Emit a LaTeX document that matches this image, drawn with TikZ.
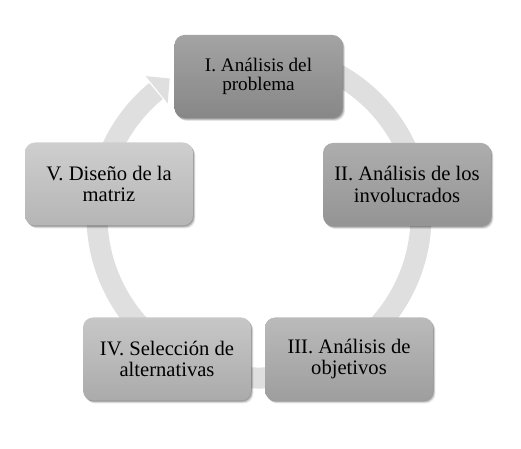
\documentclass[tikz,border=0pt]{standalone}
\usepackage{fontspec}
\setmainfont{Liberation Serif}
\usetikzlibrary{shadows,calc}
\definecolor{ringgray}{HTML}{DFDFDF}
\begin{document}
\begin{tikzpicture}[x=0.75pt,y=0.75pt,
  box/.style={rounded corners=7.5pt, minimum width=126pt, minimum height=62.25pt,
    align=center, inner sep=2pt, text=black,
    font=\fontsize{15.45}{16.3}\selectfont,
    drop shadow={shadow xshift=1.8pt, shadow yshift=-2.2pt, opacity=0.10, fill=black},
    drop shadow={shadow xshift=1.2pt, shadow yshift=-1.5pt, opacity=0.15, fill=black},
    drop shadow={shadow xshift=0.6pt, shadow yshift=-0.8pt, opacity=0.20, fill=black}},
  ring/.style={line width=15.75pt, draw=ringgray},
]
\path[use as bounding box] (0,0) rectangle (521,449);
\coordinate (c) at (259,233);
% circular arrow
\draw[ring] ($(c)+(112:162)$) arc[start angle=112, end angle=-230.5, radius=162];
\fill[ringgray] ($(c)+(123:164)$) -- ($(c)+(129:145)$) -- ($(c)+(129:180)$) -- cycle;
% boxes
\node[box, top color=black!36, bottom color=black!47,
  font=\fontsize{14.4}{14.4}\selectfont] (p1) at (258.5,372.5) {I. Análisis del\\problema};
\node[box, top color=black!32, bottom color=black!42] (p2) at (407,264.5) {II. Análisis de los\\involucrados};
\node[box, top color=black!27, bottom color=black!38] (p3) at (349,90) {III. Análisis de\\objetivos};
\node[box, top color=black!22, bottom color=black!33] (p4) at (167,90) {IV. Selección de\\alternativas};
\node[box, top color=black!19, bottom color=black!29] (p5) at (109,265) {V. Diseño de la\\matriz};
\end{tikzpicture}
\end{document}
